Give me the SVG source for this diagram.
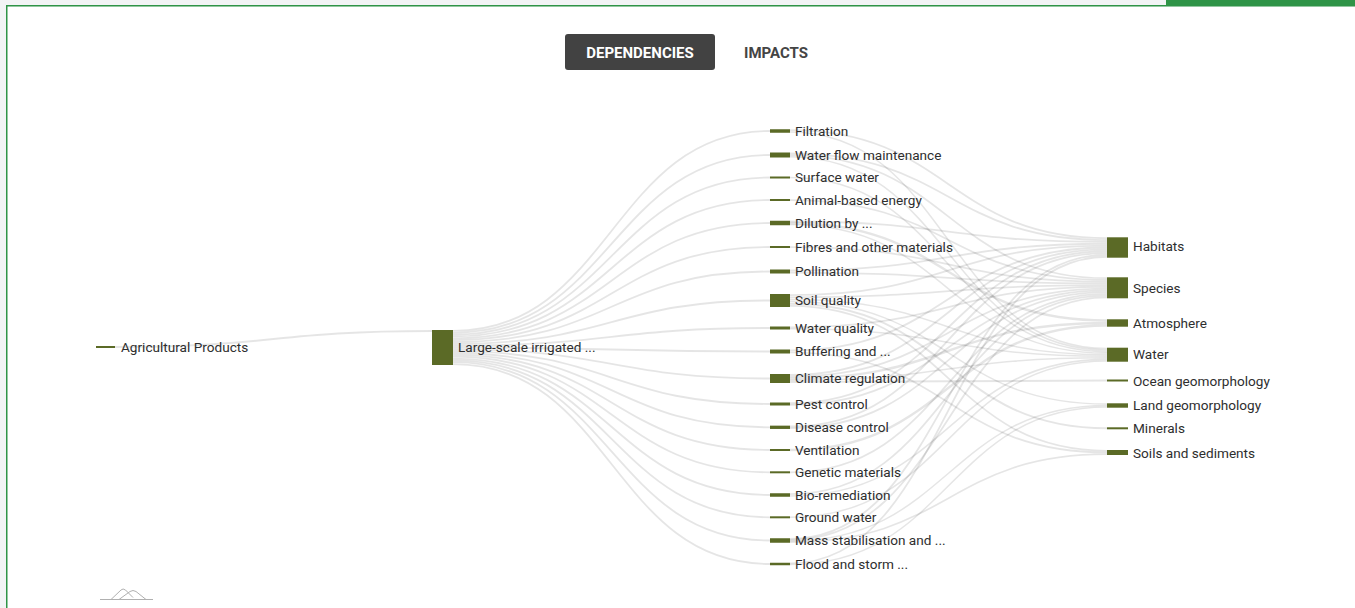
<svg xmlns="http://www.w3.org/2000/svg" width="1355" height="608" viewBox="0 0 1355 608">
<style>
.lk{fill:none;stroke:#000;stroke-opacity:0.1}
.l1{stroke-width:1.84}
.h{stroke-width:1.85}.s{stroke-width:1.75}.a{stroke-width:2.4}.w{stroke-width:1.55}.o{stroke-width:2}.l{stroke-width:1.5}.m{stroke-width:2}.so{stroke-width:1.7}
.bar{fill:#5b6a26}
.lbl{font-family:Roboto,"Liberation Sans",sans-serif;font-size:13.6px;fill:#2e2e2e}
.btn{font-family:Roboto,"Liberation Sans",sans-serif;font-size:15px;font-weight:bold}
</style>
<rect x="0" y="0" width="1355" height="608" fill="#f2f4f5"/>
<rect x="7" y="6.5" width="1348" height="601.5" fill="#fff"/>
<path d="M6.75,608 V5.75 H1355" fill="none" stroke="#2f9447" stroke-width="1.5"/>
<rect x="1166" y="0" width="189" height="6" fill="#2f9447"/>

<g id="tabs">
<rect x="565" y="34" width="150" height="36" rx="3" fill="#424242"/>
<text class="btn" x="640" y="57.5" text-anchor="middle" fill="#fff">DEPENDENCIES</text>
<text class="btn" x="744" y="57.5" fill="#444">IMPACTS</text>
</g>

<g id="links">
<path class="lk" stroke-width="2" d="M115,347 C273.5,347 273.5,331 432,331"/>
<path class="lk l1" d="M453,330.9 C611.5,330.9 611.5,131 770,131"/>
<path class="lk l1" d="M453,332.8 C611.5,332.8 611.5,155 770,155"/>
<path class="lk l1" d="M453,334.6 C611.5,334.6 611.5,177.5 770,177.5"/>
<path class="lk l1" d="M453,336.4 C611.5,336.4 611.5,200 770,200"/>
<path class="lk l1" d="M453,338.3 C611.5,338.3 611.5,223 770,223"/>
<path class="lk l1" d="M453,340.1 C611.5,340.1 611.5,247 770,247"/>
<path class="lk l1" d="M453,342 C611.5,342 611.5,271.5 770,271.5"/>
<path class="lk l1" d="M453,343.8 C611.5,343.8 611.5,300.5 770,300.5"/>
<path class="lk l1" d="M453,345.7 C611.5,345.7 611.5,328 770,328"/>
<path class="lk l1" d="M453,347.5 C611.5,347.5 611.5,351.5 770,351.5"/>
<path class="lk l1" d="M453,349.3 C611.5,349.3 611.5,378.5 770,378.5"/>
<path class="lk l1" d="M453,351.2 C611.5,351.2 611.5,404 770,404"/>
<path class="lk l1" d="M453,353 C611.5,353 611.5,427.3 770,427.3"/>
<path class="lk l1" d="M453,354.9 C611.5,354.9 611.5,450 770,450"/>
<path class="lk l1" d="M453,356.7 C611.5,356.7 611.5,472.3 770,472.3"/>
<path class="lk l1" d="M453,358.6 C611.5,358.6 611.5,495 770,495"/>
<path class="lk l1" d="M453,360.4 C611.5,360.4 611.5,517.3 770,517.3"/>
<path class="lk l1" d="M453,362.2 C611.5,362.2 611.5,540.5 770,540.5"/>
<path class="lk l1" d="M453,364.1 C611.5,364.1 611.5,564 770,564"/>

<path class="lk h" d="M790,130.1 C948.5,130.1 948.5,238.2 1107,238.2"/>
<path class="lk w" d="M790,131.9 C948.5,131.9 948.5,348.5 1107,348.5"/>
<path class="lk h" d="M790,153.3 C948.5,153.3 948.5,240.1 1107,240.1"/>
<path class="lk s" d="M790,155 C948.5,155 948.5,278.2 1107,278.2"/>
<path class="lk w" d="M790,156.7 C948.5,156.7 948.5,350 1107,350"/>
<path class="lk w" d="M790,177.5 C948.5,177.5 948.5,351.6 1107,351.6"/>
<path class="lk s" d="M790,200 C948.5,200 948.5,279.9 1107,279.9"/>
<path class="lk h" d="M790,221.5 C948.5,221.5 948.5,241.9 1107,241.9"/>
<path class="lk a" d="M790,223 C948.5,223 948.5,320.5 1107,320.5"/>
<path class="lk w" d="M790,224.5 C948.5,224.5 948.5,353.1 1107,353.1"/>
<path class="lk s" d="M790,247 C948.5,247 948.5,281.7 1107,281.7"/>
<path class="lk h" d="M790,270.5 C948.5,270.5 948.5,243.8 1107,243.8"/>
<path class="lk s" d="M790,272.5 C948.5,272.5 948.5,283.4 1107,283.4"/>
<path class="lk h" d="M790,295.1 C948.5,295.1 948.5,245.6 1107,245.6"/>
<path class="lk s" d="M790,297.25 C948.5,297.25 948.5,285.2 1107,285.2"/>
<path class="lk w" d="M790,299.4 C948.5,299.4 948.5,354.7 1107,354.7"/>
<path class="lk l" d="M790,301.6 C948.5,301.6 948.5,404 1107,404"/>
<path class="lk m" d="M790,303.75 C948.5,303.75 948.5,428.3 1107,428.3"/>
<path class="lk so" d="M790,305.9 C948.5,305.9 948.5,450.8 1107,450.8"/>
<path class="lk s" d="M790,327.25 C948.5,327.25 948.5,286.9 1107,286.9"/>
<path class="lk w" d="M790,328.75 C948.5,328.75 948.5,356.3 1107,356.3"/>
<path class="lk h" d="M790,350.5 C948.5,350.5 948.5,247.5 1107,247.5"/>
<path class="lk so" d="M790,352.5 C948.5,352.5 948.5,452.5 1107,452.5"/>
<path class="lk h" d="M790,374.9 C948.5,374.9 948.5,249.4 1107,249.4"/>
<path class="lk s" d="M790,376.7 C948.5,376.7 948.5,288.7 1107,288.7"/>
<path class="lk a" d="M790,378.5 C948.5,378.5 948.5,323 1107,323"/>
<path class="lk w" d="M790,380.3 C948.5,380.3 948.5,357.8 1107,357.8"/>
<path class="lk o" d="M790,382.1 C948.5,382.1 948.5,380.5 1107,380.5"/>
<path class="lk h" d="M790,403.25 C948.5,403.25 948.5,251.2 1107,251.2"/>
<path class="lk s" d="M790,404.75 C948.5,404.75 948.5,290.4 1107,290.4"/>
<path class="lk h" d="M790,426.5 C948.5,426.5 948.5,253.1 1107,253.1"/>
<path class="lk s" d="M790,428.1 C948.5,428.1 948.5,292.2 1107,292.2"/>
<path class="lk a" d="M790,450 C948.5,450 948.5,325.5 1107,325.5"/>
<path class="lk s" d="M790,472.3 C948.5,472.3 948.5,293.9 1107,293.9"/>
<path class="lk s" d="M790,494.1 C948.5,494.1 948.5,295.7 1107,295.7"/>
<path class="lk w" d="M790,495.9 C948.5,495.9 948.5,359.4 1107,359.4"/>
<path class="lk w" d="M790,517.3 C948.5,517.3 948.5,360.9 1107,360.9"/>
<path class="lk h" d="M790,538.8 C948.5,538.8 948.5,254.9 1107,254.9"/>
<path class="lk s" d="M790,539.9 C948.5,539.9 948.5,297.4 1107,297.4"/>
<path class="lk l" d="M790,541.1 C948.5,541.1 948.5,405.5 1107,405.5"/>
<path class="lk so" d="M790,542.2 C948.5,542.2 948.5,454.2 1107,454.2"/>
<path class="lk h" d="M790,563.4 C948.5,563.4 948.5,256.8 1107,256.8"/>
<path class="lk l" d="M790,564.6 C948.5,564.6 948.5,407 1107,407"/>
</g>

<g id="n-agri"><rect class="bar" x="96" y="346" width="19" height="2"/><text class="lbl" x="121" y="352">Agricultural Products</text></g>
<g id="n-large"><rect class="bar" x="432" y="330" width="21" height="35"/><text class="lbl" x="458" y="352">Large-scale irrigated ...</text></g>

<g id="n-filtration"><rect class="bar" x="770" y="129.25" width="20" height="3.5"/><text class="lbl" x="795" y="135.5">Filtration</text></g>
<g id="n-waterflow"><rect class="bar" x="770" y="152.5" width="20" height="5"/><text class="lbl" x="795" y="159.5">Water flow maintenance</text></g>
<g id="n-surface"><rect class="bar" x="770" y="176.5" width="20" height="2"/><text class="lbl" x="795" y="182">Surface water</text></g>
<g id="n-animal"><rect class="bar" x="770" y="199" width="20" height="2"/><text class="lbl" x="795" y="204.5">Animal-based energy</text></g>
<g id="n-dilution"><rect class="bar" x="770" y="220.75" width="20" height="4.5"/><text class="lbl" x="795" y="227.5">Dilution by ...</text></g>
<g id="n-fibres"><rect class="bar" x="770" y="246" width="20" height="2"/><text class="lbl" x="795" y="251.5">Fibres and other materials</text></g>
<g id="n-pollination"><rect class="bar" x="770" y="269.5" width="20" height="4"/><text class="lbl" x="795" y="276">Pollination</text></g>
<g id="n-soilq"><rect class="bar" x="770" y="294" width="20" height="13"/><text class="lbl" x="795" y="305">Soil quality</text></g>
<g id="n-waterq"><rect class="bar" x="770" y="326.5" width="20" height="3"/><text class="lbl" x="795" y="332.5">Water quality</text></g>
<g id="n-buffering"><rect class="bar" x="770" y="349.5" width="20" height="4"/><text class="lbl" x="795" y="356">Buffering and ...</text></g>
<g id="n-climate"><rect class="bar" x="770" y="374" width="20" height="9"/><text class="lbl" x="795" y="383">Climate regulation</text></g>
<g id="n-pest"><rect class="bar" x="770" y="402.5" width="20" height="3"/><text class="lbl" x="795" y="408.5">Pest control</text></g>
<g id="n-disease"><rect class="bar" x="770" y="425.65" width="20" height="3.3"/><text class="lbl" x="795" y="431.8">Disease control</text></g>
<g id="n-ventilation"><rect class="bar" x="770" y="449" width="20" height="2"/><text class="lbl" x="795" y="454.5">Ventilation</text></g>
<g id="n-genetic"><rect class="bar" x="770" y="471.3" width="20" height="2"/><text class="lbl" x="795" y="476.8">Genetic materials</text></g>
<g id="n-bioremediation"><rect class="bar" x="770" y="493.25" width="20" height="3.5"/><text class="lbl" x="795" y="499.5">Bio-remediation</text></g>
<g id="n-groundwater"><rect class="bar" x="770" y="516.3" width="20" height="2"/><text class="lbl" x="795" y="521.8">Ground water</text></g>
<g id="n-mass"><rect class="bar" x="770" y="538.25" width="20" height="4.5"/><text class="lbl" x="795" y="545">Mass stabilisation and ...</text></g>
<g id="n-flood"><rect class="bar" x="770" y="562.75" width="20" height="2.5"/><text class="lbl" x="795" y="568.5">Flood and storm ...</text></g>

<g id="n-habitats"><rect class="bar" x="1107" y="237.3" width="21" height="20.4"/><text class="lbl" x="1133" y="251">Habitats</text></g>
<g id="n-species"><rect class="bar" x="1107" y="277.3" width="21" height="21"/><text class="lbl" x="1133" y="292.5">Species</text></g>
<g id="n-atmosphere"><rect class="bar" x="1107" y="319.3" width="21" height="7.4"/><text class="lbl" x="1133" y="327.5">Atmosphere</text></g>
<g id="n-water"><rect class="bar" x="1107" y="347.7" width="21" height="14"/><text class="lbl" x="1133" y="359">Water</text></g>
<g id="n-ocean"><rect class="bar" x="1107" y="379.5" width="21" height="2"/><text class="lbl" x="1133" y="385.5">Ocean geomorphology</text></g>
<g id="n-land"><rect class="bar" x="1107" y="403.3" width="21" height="4.4"/><text class="lbl" x="1133" y="410">Land geomorphology</text></g>
<g id="n-minerals"><rect class="bar" x="1107" y="427.3" width="21" height="2"/><text class="lbl" x="1133" y="433">Minerals</text></g>
<g id="n-soils"><rect class="bar" x="1107" y="450" width="21" height="5"/><text class="lbl" x="1133" y="457.5">Soils and sediments</text></g>

<g id="logo" fill="none" stroke="#b0b0b0" stroke-width="1">
<path d="M100,599.5 H153"/>
<path d="M111,599.5 L121,590 Q123,588 125.5,590 L133,597.5"/>
<path d="M119,599.5 L130,591.5 Q133,589.5 136,591.5 L146,599.5"/>
</g>
</svg>
